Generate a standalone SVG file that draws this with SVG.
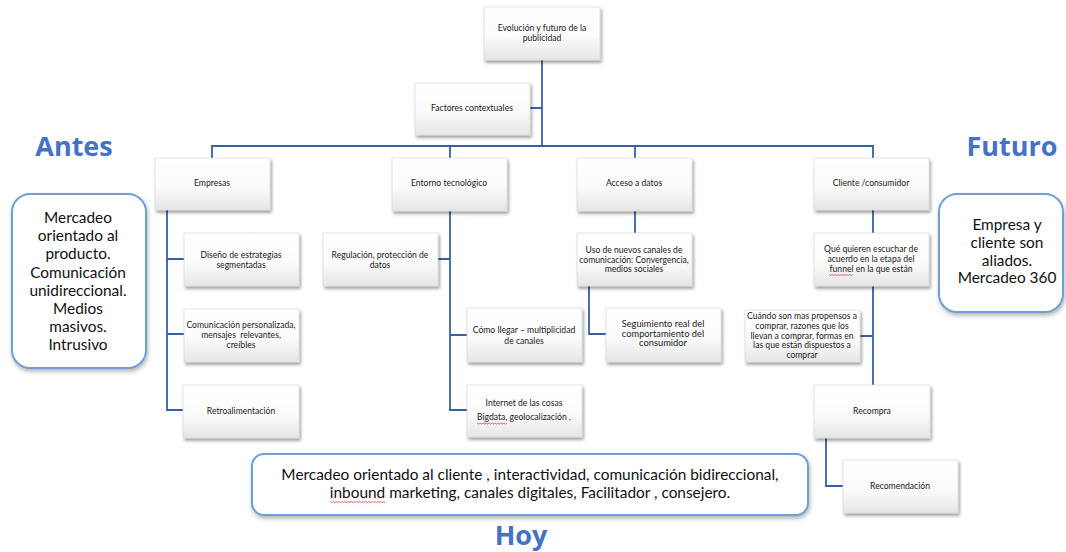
<svg xmlns="http://www.w3.org/2000/svg" width="1066" height="552" viewBox="0 0 1066 552">
  <defs>
    <linearGradient id="boxFill" x1="0" y1="0" x2="0" y2="1">
      <stop offset="0" stop-color="#ffffff"/>
      <stop offset="0.55" stop-color="#fbfbfb"/>
      <stop offset="1" stop-color="#e6e6e6"/>
    </linearGradient>
    <filter id="shadow" x="-10%" y="-10%" width="125%" height="135%">
      <feDropShadow dx="1.5" dy="2.5" stdDeviation="1.6" flood-color="#000" flood-opacity="0.38"/>
    </filter>
    <filter id="softShadow" x="-10%" y="-10%" width="125%" height="130%">
      <feDropShadow dx="1" dy="2.5" stdDeviation="2" flood-color="#000" flood-opacity="0.3"/>
    </filter>
  </defs>
  <style>
    .box { fill: url(#boxFill); stroke: #d4d4d4; stroke-width: 0.6; filter: url(#shadow); }
    .call { fill: #ffffff; stroke: #6f9fd6; stroke-width: 2; filter: url(#softShadow); }
    .t { font-family: Lato, "Liberation Sans", sans-serif; font-size: 8.6px; fill: #1a1a1a; text-anchor: middle; }
    .ts { font-size: 8.6px; }
    .tl { font-size: 9.3px; }
    .big { font-family: Lato, "Liberation Sans", sans-serif; font-size: 15.4px; fill: #111; text-anchor: middle; }
    .title { font-family: "Open Sans", "Liberation Sans", sans-serif; font-weight: bold; font-size: 27px; fill: #4472c4; text-anchor: middle; }
    .link { fill: none; stroke: #3561a8; stroke-width: 1.8; }
    .squig { fill: none; stroke: #e03030; stroke-width: 0.7; }
  </style>

  <!-- tree connectors -->
  <g id="connectors">
    <path class="link" d="M542,60 V146 M530,108 H542"/>
    <path class="link" d="M212,158 V146 H873 V158 M450,146 V158 M635,146 V158"/>
    <path class="link" d="M167,210 V410 H183 M167,259 H184 M167,334 H184"/>
    <path class="link" d="M450,211 V410 H467 M438,259 H450 M450,335 H467"/>
    <path class="link" d="M635,211 V233 M589,286 V334 H606"/>
    <path class="link" d="M873,210 V233 M873,286 V385 M860,336 H873"/>
    <path class="link" d="M826,438 V486 H843"/>
  </g>

  <!-- root and first level -->
  <g id="root">
    <rect class="box" x="484" y="7" width="116" height="53"/>
    <text class="t" x="542" y="31">Evolución y futuro de la</text>
    <text class="t" x="542" y="41">publicidad</text>
  </g>
  <g id="factores">
    <rect class="box" x="415" y="83" width="115" height="52"/>
    <text class="t" x="472" y="111">Factores contextuales</text>
  </g>

  <!-- Empresas branch -->
  <g id="empresas">
    <rect class="box" x="155" y="158" width="115" height="52"/>
    <text class="t" x="212" y="186">Empresas</text>
  </g>
  <g id="diseno">
    <rect class="box" x="184" y="233" width="115" height="53"/>
    <text class="t" x="241" y="258">Diseño de estrategias</text>
    <text class="t" x="241" y="268">segmentadas</text>
  </g>
  <g id="comunicacion">
    <rect class="box" x="184" y="309" width="115" height="53"/>
    <text class="t" x="241" y="328">Comunicación personalizada,</text>
    <text class="t" x="241" y="338" xml:space="preserve">mensajes  relevantes,</text>
    <text class="t" x="241" y="348">creíbles</text>
  </g>
  <g id="retro">
    <rect class="box" x="183" y="385" width="116" height="53"/>
    <text class="t" x="241" y="414">Retroalimentación</text>
  </g>

  <!-- Entorno tecnológico branch -->
  <g id="entorno">
    <rect class="box" x="392" y="158" width="115" height="53"/>
    <text class="t" x="449" y="186">Entorno tecnológico</text>
  </g>
  <g id="regulacion">
    <rect class="box" x="323" y="233" width="115" height="53"/>
    <text class="t" x="380" y="258">Regulación, protección de</text>
    <text class="t" x="380" y="268">datos</text>
  </g>
  <g id="como-llegar">
    <rect class="box" x="467" y="308" width="115" height="54"/>
    <text class="t" x="524" y="333">Cómo llegar – multiplicidad</text>
    <text class="t" x="524" y="344">de canales</text>
  </g>
  <g id="internet">
    <rect class="box" x="467" y="385" width="115" height="52"/>
    <text class="t" x="524" y="406">Internet de las cosas</text>
    <text class="t" x="524" y="420">Bigdata, geolocalización .</text>
    <path class="squig" d="M477,423 l1.5,1 l1.5,-1 l1.5,1 l1.5,-1 l1.5,1 l1.5,-1 l1.5,1 l1.5,-1 l1.5,1 l1.5,-1 l1.5,1 l1.5,-1 l1.5,1 l1.5,-1 l1.5,1 l1.5,-1 l1.5,1 l1.5,-1 l1.5,1 l1.5,-1"/>
  </g>

  <!-- Acceso a datos branch -->
  <g id="acceso">
    <rect class="box" x="577" y="158" width="115" height="53"/>
    <text class="t" x="634" y="186">Acceso a datos</text>
  </g>
  <g id="uso-canales">
    <rect class="box" x="577" y="233" width="115" height="53"/>
    <text class="t" x="634" y="253">Uso de nuevos canales de</text>
    <text class="t" x="634" y="263">comunicación: Convergencia,</text>
    <text class="t" x="634" y="272">medios sociales</text>
  </g>
  <g id="seguimiento">
    <rect class="box" x="606" y="308" width="115" height="54"/>
    <text class="t tl" x="663" y="327">Seguimiento real del</text>
    <text class="t tl" x="663" y="336.5">comportamiento del</text>
    <text class="t tl" x="663" y="346">consumidor</text>
  </g>

  <!-- Cliente /consumidor branch -->
  <g id="cliente">
    <rect class="box" x="814" y="158" width="115" height="52"/>
    <text class="t" x="871" y="186">Cliente /consumidor</text>
  </g>
  <g id="que-quieren">
    <rect class="box" x="814" y="233" width="115" height="53"/>
    <text class="t" x="871" y="252">Qué quieren escuchar de</text>
    <text class="t" x="871" y="262">acuerdo en la etapa del</text>
    <text class="t" x="871" y="272">funnel en la que están</text>
    <path class="squig" d="M829,274.5 l1.5,1 l1.5,-1 l1.5,1 l1.5,-1 l1.5,1 l1.5,-1 l1.5,1 l1.5,-1 l1.5,1 l1.5,-1 l1.5,1 l1.5,-1 l1.5,1 l1.5,-1 l1.5,1 l1.5,-1"/>
  </g>
  <g id="cuando">
    <rect class="box" x="745" y="310" width="115" height="52"/>
    <text class="t ts" x="802" y="318.5">Cuándo son mas propensos a</text>
    <text class="t ts" x="802" y="328.5">comprar, razones que los</text>
    <text class="t ts" x="802" y="338.5">llevan a comprar, formas en</text>
    <text class="t ts" x="802" y="348">las que están dispuestos a</text>
    <text class="t ts" x="802" y="357.5">comprar</text>
  </g>
  <g id="recompra">
    <rect class="box" x="814" y="385" width="116" height="53"/>
    <text class="t" x="872" y="414">Recompra</text>
  </g>
  <g id="recomendacion">
    <rect class="box" x="843" y="460" width="115" height="53"/>
    <text class="t" x="900" y="489">Recomendación</text>
  </g>

  <!-- era labels and summaries -->
  <g id="antes">
    <text class="title" x="74" y="156">Antes</text>
    <rect class="call" x="12" y="194" width="134" height="174" rx="18"/>
    <text class="big" x="78" y="223">Mercadeo</text>
    <text class="big" x="78" y="241">orientado al</text>
    <text class="big" x="78" y="259">producto.</text>
    <text class="big" x="78" y="277.5">Comunicación</text>
    <text class="big" x="78" y="295.5">unidireccional.</text>
    <text class="big" x="78" y="313.5">Medios</text>
    <text class="big" x="78" y="332">masivos.</text>
    <text class="big" x="78" y="350">Intrusivo</text>
  </g>
  <g id="futuro">
    <text class="title" x="1012" y="156">Futuro</text>
    <rect class="call" x="939" y="194" width="124" height="118" rx="18"/>
    <text class="big" x="1007" y="230">Empresa y</text>
    <text class="big" x="1007" y="248">cliente son</text>
    <text class="big" x="1007" y="265.5">aliados.</text>
    <text class="big" x="1007" y="283">Mercadeo 360</text>
  </g>
  <g id="hoy">
    <rect class="call" x="252" y="454" width="556" height="61" rx="12"/>
    <text class="big" x="530" y="480">Mercadeo orientado al cliente , interactividad, comunicación bidireccional,</text>
    <text class="big" x="530" y="498">inbound marketing, canales digitales, Facilitador , consejero.</text>
    <path class="squig" d="M330,501.5 l1.5,1 l1.5,-1 l1.5,1 l1.5,-1 l1.5,1 l1.5,-1 l1.5,1 l1.5,-1 l1.5,1 l1.5,-1 l1.5,1 l1.5,-1 l1.5,1 l1.5,-1 l1.5,1 l1.5,-1 l1.5,1 l1.5,-1 l1.5,1 l1.5,-1 l1.5,1 l1.5,-1 l1.5,1 l1.5,-1 l1.5,1 l1.5,-1 l1.5,1 l1.5,-1 l1.5,1 l1.5,-1 l1.5,1 l1.5,-1 l1.5,1 l1.5,-1 l1.5,1 l1.5,-1 l1.5,1"/>
    <text class="title" x="521" y="545">Hoy</text>
  </g>
</svg>
